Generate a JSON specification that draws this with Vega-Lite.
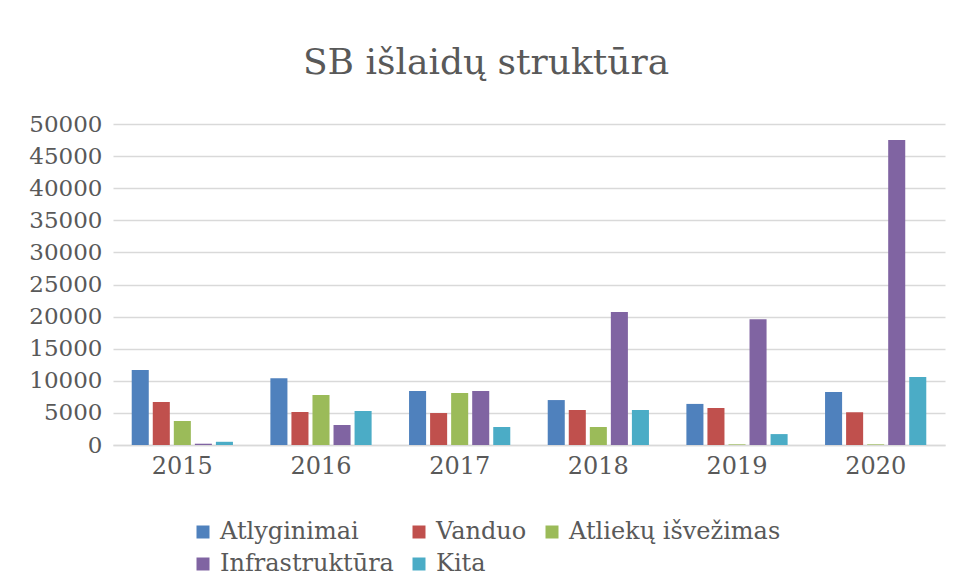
{
  "$schema": "https://vega.github.io/schema/vega-lite/v6.json",
  "width": 832,
  "height": 321,
  "autosize": {"type": "none"},
  "padding": {"left": 113, "top": 124, "right": 10, "bottom": 132},
  "background": "white",
  "title": {
    "text": "SB išlaidų struktūra",
    "font": "DejaVu Serif",
    "fontSize": 36,
    "fontWeight": "normal",
    "color": "#595959",
    "anchor": "middle",
    "dx": -43,
    "offset": 31
  },
  "data": {
    "values": [
      {"year": "2015", "series": "Atlyginimai", "value": 11700},
      {"year": "2015", "series": "Vanduo", "value": 6700},
      {"year": "2015", "series": "Atliekų išvežimas", "value": 3740},
      {"year": "2015", "series": "Infrastruktūra", "value": 200},
      {"year": "2015", "series": "Kita", "value": 500},
      {"year": "2016", "series": "Atlyginimai", "value": 10400},
      {"year": "2016", "series": "Vanduo", "value": 5140},
      {"year": "2016", "series": "Atliekų išvežimas", "value": 7800},
      {"year": "2016", "series": "Infrastruktūra", "value": 3100},
      {"year": "2016", "series": "Kita", "value": 5300},
      {"year": "2017", "series": "Atlyginimai", "value": 8400},
      {"year": "2017", "series": "Vanduo", "value": 4980},
      {"year": "2017", "series": "Atliekų išvežimas", "value": 8100},
      {"year": "2017", "series": "Infrastruktūra", "value": 8400},
      {"year": "2017", "series": "Kita", "value": 2800},
      {"year": "2018", "series": "Atlyginimai", "value": 7000},
      {"year": "2018", "series": "Vanduo", "value": 5450},
      {"year": "2018", "series": "Atliekų išvežimas", "value": 2800},
      {"year": "2018", "series": "Infrastruktūra", "value": 20700},
      {"year": "2018", "series": "Kita", "value": 5450},
      {"year": "2019", "series": "Atlyginimai", "value": 6400},
      {"year": "2019", "series": "Vanduo", "value": 5760},
      {"year": "2019", "series": "Atliekų išvežimas", "value": 100},
      {"year": "2019", "series": "Infrastruktūra", "value": 19600},
      {"year": "2019", "series": "Kita", "value": 1700},
      {"year": "2020", "series": "Atlyginimai", "value": 8250},
      {"year": "2020", "series": "Vanduo", "value": 5100},
      {"year": "2020", "series": "Atliekų išvežimas", "value": 100},
      {"year": "2020", "series": "Infrastruktūra", "value": 47500},
      {"year": "2020", "series": "Kita", "value": 10600}
    ]
  },
  "mark": {"type": "bar"},
  "encoding": {
    "x": {
      "field": "year",
      "type": "nominal",
      "scale": {"paddingInner": 0.27, "paddingOuter": 0.135},
      "axis": {
        "title": null,
        "labelAngle": 0,
        "labelFont": "DejaVu Serif",
        "labelFontSize": 24,
        "labelColor": "#595959",
        "labelPadding": 9,
        "ticks": false,
        "domainColor": "#D9D9D9",
        "domainWidth": 1.5
      }
    },
    "xOffset": {
      "field": "series",
      "type": "nominal",
      "sort": ["Atlyginimai", "Vanduo", "Atliekų išvežimas", "Infrastruktūra", "Kita"],
      "scale": {"paddingInner": 0.19, "paddingOuter": 0}
    },
    "y": {
      "field": "value",
      "type": "quantitative",
      "scale": {"domain": [0, 50000], "nice": false},
      "axis": {
        "title": null,
        "values": [0, 5000, 10000, 15000, 20000, 25000, 30000, 35000, 40000, 45000, 50000],
        "format": "d",
        "labelFont": "DejaVu Serif",
        "labelFontSize": 23,
        "labelColor": "#595959",
        "labelPadding": 11,
        "ticks": false,
        "domain": false,
        "gridColor": "#D9D9D9",
        "gridWidth": 1.5
      }
    },
    "color": {
      "field": "series",
      "type": "nominal",
      "sort": ["Atlyginimai", "Vanduo", "Atliekų išvežimas", "Infrastruktūra", "Kita"],
      "scale": {
        "domain": ["Atlyginimai", "Vanduo", "Atliekų išvežimas", "Infrastruktūra", "Kita"],
        "range": ["#4F81BD", "#C0504D", "#9BBB59", "#8064A2", "#4BACC6"]
      },
      "legend": {
        "title": null,
        "orient": "none",
        "legendX": 78,
        "legendY": 396,
        "direction": "horizontal",
        "columns": 3,
        "symbolType": "square",
        "symbolSize": 169,
        "symbolStrokeWidth": 0,
        "labelFont": "DejaVu Serif",
        "labelFontSize": 24,
        "labelColor": "#595959",
        "labelOffset": 5,
        "labelLimit": 400,
        "columnPadding": 13,
        "rowPadding": 8
      }
    }
  },
  "config": {
    "view": {"stroke": null}
  }
}
